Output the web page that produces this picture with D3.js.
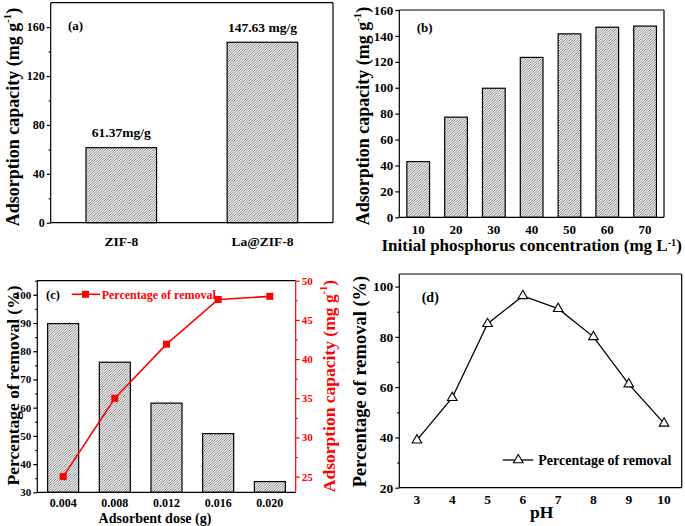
<!DOCTYPE html>
<html><head><meta charset="utf-8">
<script src="https://cdn.jsdelivr.net/npm/d3@7/dist/d3.min.js"></script>
<style>
body{margin:0;background:#fff;}
svg text{font-family:"Liberation Serif","Times New Roman",serif;font-weight:bold;}
</style></head>
<body>
<svg id="c" width="685" height="526"></svg>
<script>
// ---- data ----
const catsA = ["ZIF-8", "La@ZIF-8"];
const valsA = [61.37, 147.63];
const annA = ["61.37mg/g", "147.63 mg/g"];

const concB = [10, 20, 30, 40, 50, 60, 70];
const capB = [43.0, 77.3, 99.6, 123.4, 141.6, 146.7, 147.6];

const doseC = [0.004, 0.008, 0.012, 0.016, 0.020];
const doseLabelsC = ["0.004", "0.008", "0.012", "0.016", "0.020"];
const removalC = [89.8, 76.1, 61.6, 50.8, 33.8];
const capC = [25.0, 35.0, 41.9, 47.6, 48.0];

const phD = [3, 4, 5, 6, 7, 8, 9, 10];
const removalD = [38.9, 55.8, 85.2, 96.3, 91.2, 80.0, 61.2, 45.6];

const svg = d3.select("#c");
const defs = svg.append("defs");
const pat = defs.append("pattern").attr("id", "hatch").attr("patternUnits", "userSpaceOnUse")
  .attr("width", 2.5).attr("height", 2.5);
pat.append("rect").attr("width", 2.5).attr("height", 2.5).attr("fill", "#fff");
pat.append("path").attr("d", "M-0.625,0.625 L0.625,-0.625 M0,2.5 L2.5,0 M1.875,3.125 L3.125,1.875")
  .attr("stroke", "#5a5a5a").attr("stroke-width", 0.8);

function frame(x0, x1, y0, y1, rightColor) {
  const g = svg.append("g");
  const seg = (a, b, c, d, col) => g.append("line").attr("x1", a).attr("x2", b).attr("y1", c).attr("y2", d)
    .attr("stroke", col || "#000").attr("stroke-width", 1.2);
  seg(x0, x1, y0, y0); seg(x0, x1, y1, y1); seg(x0, x0, y0, y1); seg(x1, x1, y0, y1, rightColor);
}

function yAxis(scale, x, major, minor, fs, color, right) {
  color = color || "#000";
  const mk = right ? d3.axisRight : d3.axisLeft;
  const g = svg.append("g").attr("transform", `translate(${x},0)`)
    .call(mk(scale).tickValues(major).tickSize(4).tickPadding(2).tickSizeOuter(0));
  g.select(".domain").remove();
  g.selectAll("line").attr("stroke", color).attr("stroke-width", 1.2);
  g.selectAll("text").attr("font-size", fs).attr("fill", color)
    .attr("font-family", '"Liberation Serif","Times New Roman",serif').attr("font-weight", "bold");
  if (minor && minor.length) {
    const m = svg.append("g").attr("transform", `translate(${x},0)`)
      .call(mk(scale).tickValues(minor).tickSize(2).tickFormat("").tickSizeOuter(0));
    m.select(".domain").remove();
    m.selectAll("line").attr("stroke", color).attr("stroke-width", 1.2);
  }
}

function xLabels(scale, vals, labels, y, fs) {
  svg.append("g").selectAll("text").data(vals).join("text")
    .attr("x", d => scale(d)).attr("y", y).attr("text-anchor", "middle")
    .attr("dominant-baseline", "central").attr("font-size", fs)
    .text((d, i) => labels ? labels[i] : d);
}

function yTitle(x, y, fs, parts, color) {
  const t = svg.append("text").attr("transform", `translate(${x},${y}) rotate(-90)`)
    .attr("text-anchor", "middle").attr("dominant-baseline", "central")
    .attr("font-size", fs).attr("fill", color || "#000");
  parts.forEach(p => {
    const s = t.append("tspan").text(p.t);
    if (p.sup) s.attr("baseline-shift", "super").attr("font-size", fs * 0.6);
  });
  return t;
}
function xTitle(x, y, fs, parts) {
  const t = svg.append("text").attr("x", x).attr("y", y).attr("text-anchor", "middle")
    .attr("font-size", fs);
  parts.forEach(p => {
    const s = t.append("tspan").text(p.t);
    if (p.sup) s.attr("baseline-shift", "super").attr("font-size", fs * 0.6);
  });
}
function label(x, y, fs, txt, color) {
  svg.append("text").attr("x", x).attr("y", y).attr("dominant-baseline", "central")
    .attr("font-size", fs).attr("fill", color || "#000").text(txt);
}

// ===== Panel (a) =====
{
  const L = 50.7, R = 333, T = 2.7, B = 222.7;
  const x = d3.scaleLinear().domain([0.5, 2.5]).range([L, R]);
  const y = d3.scaleLinear().domain([0, 180]).range([B, T]);
  const pos = catsA.map((c, i) => i + 1);
  const bw = x(1.25) - x(0.75);
  svg.append("g").selectAll("rect").data(valsA).join("rect")
    .attr("x", (d, i) => x(pos[i]) - bw / 2).attr("width", bw)
    .attr("y", d => y(d)).attr("height", d => y(0) - y(d))
    .attr("fill", "url(#hatch)").attr("stroke", "#000").attr("stroke-width", 1.2);
  svg.append("g").selectAll("text").data(valsA).join("text")
    .attr("x", (d, i) => x(pos[i])).attr("y", d => y(d) - 15)
    .attr("text-anchor", "middle").attr("dominant-baseline", "central")
    .attr("font-size", 13.5).text((d, i) => annA[i]);
  frame(L, R, T, B);
  yAxis(y, L, [0, 40, 80, 120, 160], [20, 60, 100, 140], 12);
  xLabels(x, pos, catsA, 241, 13.5);
  yTitle(13, 117, 18, [{t: "Adsorption capacity (mg g"}, {t: "-1", sup: true}, {t: ")"}]);
  label(68, 25.5, 13, "(a)");
}

// ===== Panel (b) =====
{
  const L = 399.3, R = 664, T = 10, B = 217.3;
  const x = d3.scaleLinear().domain([5, 75]).range([L, R]);
  const y = d3.scaleLinear().domain([0, 160]).range([B, T]);
  const bw = x(6) - x(0);
  svg.append("g").selectAll("rect").data(capB).join("rect")
    .attr("x", (d, i) => x(concB[i]) - bw / 2).attr("width", bw)
    .attr("y", d => y(d)).attr("height", d => y(0) - y(d))
    .attr("fill", "url(#hatch)").attr("stroke", "#000").attr("stroke-width", 1.2);
  frame(L, R, T, B);
  yAxis(y, L, d3.range(0, 161, 20), [], 13);
  xLabels(x, concB, null, 229.5, 13);
  xTitle(531.7, 251, 17, [{t: "Initial phosphorus concentration (mg L"}, {t: "-1", sup: true}, {t: ")"}]);
  yTitle(363, 116, 18, [{t: "Adsorption capacity (mg g"}, {t: "-1", sup: true}, {t: ")"}]);
  label(416.7, 27.5, 13, "(b)");
}

// ===== Panel (c) =====
{
  const L = 37.3, R = 295.7, T = 280.7, B = 492.3;
  const x = d3.scaleLinear().domain([0.002, 0.022]).range([L, R]);
  const yL = d3.scaleLinear().domain([30, 105]).range([B, T]);
  const yR = d3.scaleLinear().domain([23, 50]).range([B, T]);
  const bw = x(0.0024) - x(0);
  svg.append("g").selectAll("rect").data(removalC).join("rect")
    .attr("x", (d, i) => x(doseC[i]) - bw / 2).attr("width", bw)
    .attr("y", d => yL(d)).attr("height", d => B - yL(d))
    .attr("fill", "url(#hatch)").attr("stroke", "#000").attr("stroke-width", 1.2);
  const line = d3.line().x((d, i) => x(doseC[i])).y(d => yR(d));
  svg.append("path").datum(capC).attr("d", line).attr("fill", "none")
    .attr("stroke", "#ff0000").attr("stroke-width", 1.6);
  svg.append("g").selectAll("rect").data(capC).join("rect")
    .attr("x", (d, i) => x(doseC[i]) - 3.5).attr("y", d => yR(d) - 3.5)
    .attr("width", 7).attr("height", 7).attr("fill", "#ff0000");
  frame(L, R, T, B, "#ff0000");
  yAxis(yL, L, d3.range(30, 101, 10), d3.range(35, 106, 10), 11);
  yAxis(yR, R, [25, 30, 35, 40, 45, 50], [27.5, 32.5, 37.5, 42.5, 47.5], 11, "#ff0000", true);
  xLabels(x, doseC, doseLabelsC, 502.5, 12);
  xTitle(155, 522.5, 14, [{t: "Adsorbent dose (g)"}]);
  yTitle(13, 385.5, 17.5, [{t: "Percentage of removal  (%)"}]);
  yTitle(328.5, 386, 17.5, [{t: "Adsorption capacity (mg g"}, {t: "-1", sup: true}, {t: ")"}], "#ff0000");
  label(46, 294.5, 12.5, "(c)");
  // legend
  svg.append("line").attr("x1", 71.7).attr("x2", 100).attr("y1", 294.3).attr("y2", 294.3)
    .attr("stroke", "#ff0000").attr("stroke-width", 1.6);
  svg.append("rect").attr("x", 85.5 - 3.5).attr("y", 294.3 - 3.5).attr("width", 7).attr("height", 7)
    .attr("fill", "#ff0000");
  label(101.7, 294.5, 12, "Percentage of removal", "#ff0000");
}

// ===== Panel (d) =====
{
  const L = 399.3, R = 681.7, T = 274, B = 487.7;
  const x = d3.scaleLinear().domain([2.5, 10.5]).range([L, R]);
  const y = d3.scaleLinear().domain([20, 105]).range([B, T]);
  const line = d3.line().x((d, i) => x(phD[i])).y(d => y(d));
  svg.append("path").datum(removalD).attr("d", line).attr("fill", "none")
    .attr("stroke", "#000").attr("stroke-width", 1.3);
  const tri = d3.symbol().type(d3.symbolTriangle).size(40);
  svg.append("g").selectAll("path").data(removalD).join("path")
    .attr("transform", (d, i) => `translate(${x(phD[i])},${y(d)})`)
    .attr("d", tri).attr("fill", "#fff").attr("stroke", "#000").attr("stroke-width", 1.1);
  frame(L, R, T, B);
  yAxis(y, L, [20, 40, 60, 80, 100], [30, 50, 70, 90], 13.5);
  xLabels(x, phD, null, 499, 13.5);
  xTitle(541.7, 518, 17.5, [{t: "pH"}]);
  yTitle(360, 381.5, 18.5, [{t: "Percentage of removal  (%)"}]);
  label(421.7, 297.5, 14, "(d)");
  svg.append("line").attr("x1", 502.7).attr("x2", 533.3).attr("y1", 460).attr("y2", 460)
    .attr("stroke", "#000").attr("stroke-width", 1.3);
  svg.append("path").attr("transform", "translate(518.3,460)").attr("d", tri)
    .attr("fill", "#fff").attr("stroke", "#000").attr("stroke-width", 1.1);
  label(538.3, 460.5, 14, "Percentage of removal");
}
</script>
</body></html>
